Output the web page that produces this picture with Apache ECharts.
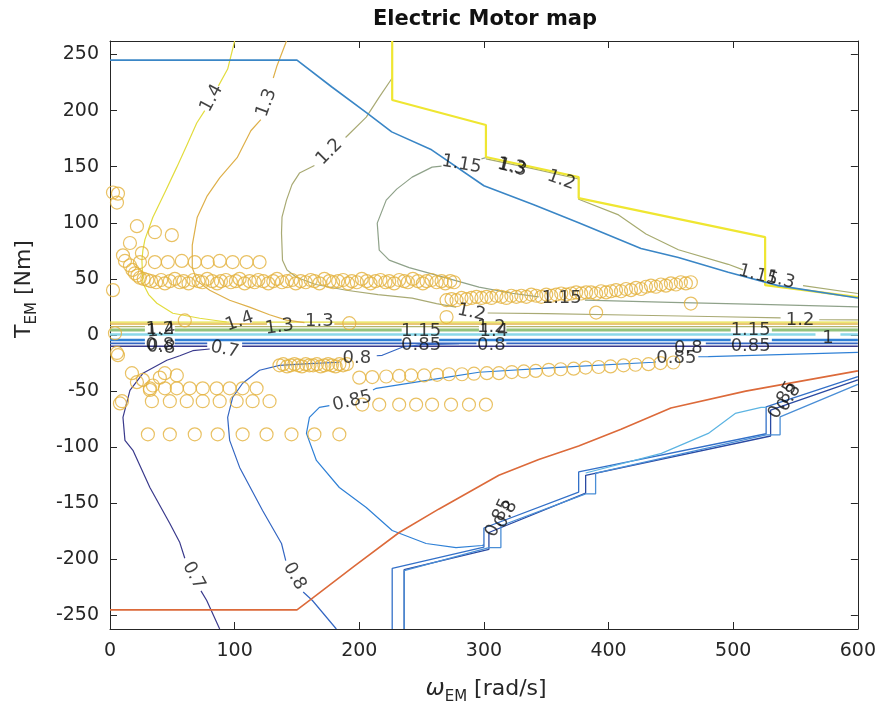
<!DOCTYPE html>
<html>
<head>
<meta charset="utf-8">
<script src="https://cdn.jsdelivr.net/npm/echarts@6/dist/echarts.min.js"></script>
<style>html,body{margin:0;padding:0;background:#fff}#c{width:879px;height:711px}</style>
</head>
<body>
<div id="c"></div>
<script>
// ---------------- data ----------------
const xTicks = [0, 100, 200, 300, 400, 500, 600];
const yTicks = [-250, -200, -150, -100, -50, 0, 50, 100, 150, 200, 250];

// torque limits
const maxTorque = [[0,245],[150,245],[178,221],[206,198],[226,181],[258,165],[300,133],[340,116],[376,100],[426,77],[456,69],[496,56],[536,44],[600,33]];
const minTorque = [[0,-245],[150,-245],[163,-234],[196,-206],[232,-176],[264,-155],[296,-135],[312,-125],[344,-111],[376,-99],[410,-84],[450,-65],[510,-50],[560,-40],[600,-32]];

// map border (highest level, yellow staircase)
const stairYellow = [[226.4,262],[226.4,209.4],[301.6,187.1],[301.6,158.6],[376,140.7],[376,122],[525.6,87.2],[525.6,44.4],[600,33.7]];
const stairOlive = [[[301.6,157],[340,148],[376,139],[376,121],[408,107],[430,90],[456,76],[496,63],[508,58]],[[556,44],[600,37]]];

// contour levels (segments)
const c14 = [[[100,262],[94.4,237],[87,222]],[[76,200],[69.6,188.9],[62,170],[53.6,149.6],[44,127],[34.4,105],[28,85],[26.4,75.6],[25.6,66.7],[26.4,46.1],[31,36],[37.6,28.3],[50.4,19.4],[72,14.9],[93.6,11.6]]];
const c13 = [[[141.6,262],[134,240],[131,229]],[[121,192],[113,182],[102,158],[88,140],[78,124],[70,105],[66,80],[66,60],[70,48],[80,39.9],[96,31],[112,24.8],[128,18],[141.6,13.2],[156,11]]];
const c12 = [[[226.4,229],[216,212],[205.6,194.2],[189,176]],[[164,151],[152,144.3],[146,134],[141.6,120.2],[138,105],[137.6,90.8],[138.4,66.7],[142,58],[149.6,51.5],[165,45],[189.6,39.9],[215,36],[242.4,32.8],[262,28],[277.6,24.8]],[[303,19.6],[350,19],[424,17.6],[480,16.5],[538,15.2]],[[569,13.6],[600,13.4]]];
const c115 = [[[301.6,158],[298,157]],[[266,150.5],[258.4,149.6],[242.4,140.7],[230,130],[221.6,120.2],[214.4,99.7],[216,75.6],[224,66.7],[240,60],[256,55.1],[296,42.6],[322.4,37.2],[344,34]],[[381,31],[450,29],[530,27],[600,25]]];
const c07 = [[[80,-12.5],[66.4,-14],[56,-18.5],[45.6,-22.5],[26.4,-34.1],[16,-49.3],[10.4,-73.4],[12,-93.9],[18.4,-102.8],[32,-135.9],[48,-168],[56,-185],[60,-199]],[[73,-228],[77.6,-236.6],[88,-262]]];
const c08 = [[[184,-24.3],[160,-25.5],[136,-27],[120,-31.4],[106.4,-43],[98.4,-55.5],[94.4,-73.4],[96,-93.9],[104,-118],[122.4,-156.4],[137.6,-185.8],[141,-201]],[[155,-229],[162.4,-236.6],[181.6,-262]],[[214,-18.5],[218.4,-18.1],[234.4,-10.9],[250,-8.5],[280,-7.8]]];
const c085 = [[[176,-63],[168,-64.5],[160,-73.4],[157.6,-87.7],[165.6,-111.8],[184,-135.9],[205.6,-153.7],[226.4,-174.2],[253.6,-185.8],[277.6,-189.4],[298.4,-187.6],[300,-187]],[[211,-49],[213.6,-47.5],[269.6,-37.7],[296,-33.2],[360,-28.8],[436,-24.3],[438,-24]],[[472,-19.4],[480,-19.2],[600,-15.4]]];

// near-zero torque band (horizontal contour branches)
const band14 = [[[0,11.5],[96,11.5]],[[114,11.5],[600,11.5]]];
const band13 = [[[0,9.8],[126,9.8]],[[180,9.8],[600,9.8]]];
const band12 = [[[0,7.5],[28,7.5]],[[52,7.5],[296,7.5]],[[318,7.5],[600,7.5]]];
const band115 = [[[0,4.5],[28,4.5]],[[52,4.5],[234,4.5]],[[264,4.5],[296,4.5]],[[318,4.5],[498,4.5]],[[531,4.5],[600,4.5]]];
const band1 = [[[0,0.5],[566,0.5]],[[586,0.5],[600,0.5]]];
const band085 = [[[0,-4.5],[28,-4.5]],[[52,-4.5],[234,-4.5]],[[264,-4.5],[498,-4.5]],[[531,-4.5],[600,-4.5]]];
const band08 = [[[0,-7.5],[28,-7.5]],[[52,-7.5],[78,-7.5]],[[106,-7.5],[294,-7.5]],[[318,-7.5],[454,-7.5]],[[478,-7.5],[600,-7.5]]];
const band07 = [[[0,-10],[78,-10]],[[106,-10],[600,-10]]];

// lower-right staircase contours
const stairA = [[226.4,-262],[226.4,-208],[300,-189],[300,-172],[376,-140],[376,-122],[526.4,-88],[526.4,-64],[600,-37]];
const stairB = [[236,-262],[236,-209],[304,-191],[304,-176],[381.6,-141],[381.6,-125],[530,-90],[530,-67],[600,-40]];
const stairC = [[236,-262],[236,-210],[304,-189.4],[313.6,-189.4],[313.6,-170],[381.6,-141.5],[389.6,-141.5],[389.6,-123],[526.4,-89],[537.6,-89],[537.6,-73],[600,-44]];
const stairD = [[381.6,-123],[442.4,-105.5],[480,-87.7],[501.6,-69.9],[522.4,-64.5],[526.4,-64.5]];

// contour labels: [x, T, text, rotation]
const contourLabels = [
  [81.6,211,'1.4',62],[125.6,207,'1.3',70],[176,163,'1.2',45],[282,152,'1.15',-10],
  [322,150,'1.3',-12],[323,149,'1.3',-14],[362,138,'1.2',-20],[520,53,'1.15',-15],[538,49,'1.3',-15],
  [40,5,'1.2',0],[41,4,'1.4',6],[40,-9,'0.8',0],[41,-11,'0.8',-4],
  [104,12,'1.4',20],[136,7,'1.3',8],[168,12,'1.3',0],[92,-13,'0.7',-12],
  [249.6,3.5,'1.15',0],[249.6,-9,'0.85',0],[290,20,'1.2',-12],
  [306,7,'1.2',0],[308,3,'1.4',0],[306,-9,'0.8',0],
  [362.4,32.8,'1.15',0],[198,-21,'0.8',0],[194.4,-59,'0.85',14],
  [514,4.2,'1.15',0],[553.6,13.2,'1.2',0],[576,-3,'1',0],[514,-10,'0.85',0],
  [464,-12,'0.8',0],[454.4,-21,'0.85',0],
  [67,-214.5,'0.7',-62],[148,-215,'0.8',-60],
  [312,-163,'0.85',65],[318,-160,'0.8',62],[540,-58,'0.85',60],[545,-56,'0.8',58]
];

// operating points (circles) [x, T]
const opTopLeft = [[2.4,127],[6.4,126],[5.6,118],[21.6,97],[36,91.6],[49.6,89],[10.4,71],[16,82],[25.6,73]];
const opRow65 = [[12,66],[24,65],[36,65],[46.4,65],[57.6,66],[68,65],[78.4,65],[88,66],[98.4,65],[109.6,65],[120,65]];
const opBand1Start = [[16,62],[18,58],[20,55],[22,53],[24,51],[27,50],[30,49]];
const opBand1X = [33,37,41,44,48,52,56,59,63,67,71,74,78,82,86,89,93,97,101,104,108,112,116,119,123,127,131,134,138,142,146,149,153,157,161,164,168,172,176,179,183,187,191,194,198,202,206,209,213,217,221,224,228,232,236,239,243,247,251,254,258,262,266,269,273,276];
const opBand1T = [48,47,49,46,48,50,47,48,46,49,48,47,50,48,46,48,49,47,48,50,46,48,47,49,48,46,48,50,47,48,49,46,48,47,49,48,46,50,48,47,48,49,46,48,47,50,48,46,48,49,47,48,46,49,48,47,50,48,46,48,49,47,48,46,48,47];
const opBand2X = [270,274,278,282,286,290,294,298,302,306,310,314,318,322,326,330,334,338,342,346,350,354,358,362,366,370,374,378,382,386,390,394,398,402,406,410,414,418,422,426,430,434,438,442,446,450,454,458,462,466];
const opBand2T = [31,32,31,33,32,33,34,33,34,33,35,34,33,35,34,35,34,36,35,34,36,35,36,37,36,37,38,37,38,38,37,39,38,39,40,39,41,40,42,41,43,44,43,45,44,46,45,47,46,47];
const opMisc = [[2.4,40],[4,1.6],[5.6,-16],[60,13],[192,10.5],[270,16],[390,20],[466,28]];
const opNegCluster = [[17.6,-34],[21.6,-42],[26.4,-40],[32,-49],[34.4,-45],[40,-38],[44,-34],[53.6,-36],[8,-61],[6.4,-18]];
const opRowNeg47X = [32,44,53.6,64,74.4,85.6,96,106.4,117.6];
const opRowNeg58X = [9.6,33.6,48,61.6,74.4,88,101.6,114.4,128];
const opRowNeg88X = [30.4,48,68,86.4,106.4,125.6,145.6,164,184];
const opRowNeg27X = [136,139,142,145,148,151,154,157,160,163,166,169,172,175,178,181,184,187,190];
const opRowNeg27T = [-27,-26,-28,-27,-26,-27,-28,-26,-27,-27,-26,-28,-27,-26,-27,-28,-26,-27,-26];
const opRowEX = [200,210.4,221.6,232,241.6,252,262.4,272,282.4,292,302.4,312,322.4,332,341.6,352,361.6,372,381.6,392,401.6,412,421.6,432,441.6,452];
const opRowET = [-38,-37.5,-37,-36.5,-36,-36,-35.5,-35,-35,-34.5,-34,-34,-33,-32.5,-32,-31,-30.5,-30,-29,-28.5,-28,-27,-26.5,-26,-25,-24.5];
const opRowFX = [202.4,216,232,245.6,258.4,273.6,288,301.6];

// ---------------- build ----------------
const FONT = '"DejaVu Sans", sans-serif';
const INK = '#262626';
const zip = (xs, ts) => xs.map((x, i) => [x, ts[i]]);
const rowAt = (xs, t) => xs.map(x => [x, t]);

const series = [];
function addLine(segs, color, width, z) {
  segs.forEach(seg => series.push({
    type: 'line', data: seg, symbol: 'none', showSymbol: false, silent: true,
    animation: false, z: z || 2, lineStyle: { color: color, width: width }
  }));
}

addLine(band1, '#8ad7e9', 2.5, 2);
addLine(band115, '#93c27c', 3, 2);
addLine(band12, '#b2b46e', 1.4, 2);
addLine(band13, '#e2b44a', 1.4, 2);
addLine(band14, '#e6df44', 1.4, 2);
addLine(band085, '#2f80d6', 2.4, 2);
addLine(band08, '#3466c2', 1.8, 2);
addLine(band07, '#37398c', 1.6, 2);

addLine(c14, '#e2dc3e', 1.2);
addLine(c13, '#deb04a', 1.2);
addLine(c12, '#a9aa74', 1.2);
addLine(c115, '#8fa28a', 1.2);
addLine(stairOlive, '#a7ab70', 1.2);
addLine(c07, '#3a3a8c', 1.2);
addLine(c08, '#3466c2', 1.2);
addLine(c085, '#2f80d6', 1.2);
addLine([stairA], '#3370c8', 1.3);
addLine([stairB], '#2a4aa2', 1.3);
addLine([stairC], '#4a8ed6', 1.3);
addLine([stairD], '#5cb4e2', 1.2);
addLine([stairYellow], '#efe631', 2.2, 3);
addLine([maxTorque], '#3a86c6', 1.6, 3);
addLine([minTorque], '#dc6a3a', 1.6, 3);

const opPoints = [].concat(
  opTopLeft, opRow65, opBand1Start, zip(opBand1X, opBand1T), zip(opBand2X, opBand2T), opMisc,
  opNegCluster, rowAt(opRowNeg47X, -47.5), rowAt(opRowNeg58X, -59), rowAt(opRowNeg88X, -88.5),
  zip(opRowNeg27X, opRowNeg27T), zip(opRowEX, opRowET), rowAt(opRowFX, -62)
);
series.push({
  type: 'scatter', data: opPoints, symbol: 'circle', symbolSize: 13, silent: true, animation: false, z: 4,
  itemStyle: { color: 'rgba(0,0,0,0)', borderColor: '#e3b23c', borderWidth: 1.2 }
});

series.push({
  type: 'scatter', silent: true, animation: false, z: 5, symbolSize: 1,
  itemStyle: { color: 'rgba(0,0,0,0)' },
  data: contourLabels.map(l => ({
    value: [l[0], l[1]],
    label: { show: true, position: 'inside', formatter: l[2], rotate: l[3],
      fontSize: 18, fontFamily: FONT, color: '#111111' }
  }))
});

const axisCommon = {
  type: 'value', splitLine: { show: false },
  axisLine: { show: true, onZero: false, lineStyle: { color: INK, width: 1 } },
  axisTick: { show: true, inside: true, length: 7, lineStyle: { color: INK } }
};

const option = {
  backgroundColor: '#ffffff',
  animation: false,
  grid: { left: 110, right: 19, top: 41, bottom: 82, containLabel: false },
  xAxis: [
    Object.assign({}, axisCommon, { position: 'bottom', min: 0, max: 600, interval: 100,
      axisLabel: { show: true, margin: 13, fontSize: 19, fontFamily: FONT, color: INK } }),
    Object.assign({}, axisCommon, { position: 'top', min: 0, max: 600, interval: 100,
      axisLabel: { show: false } })
  ],
  yAxis: [
    Object.assign({}, axisCommon, { position: 'left', min: -262, max: 262,
      axisTick: Object.assign({}, axisCommon.axisTick, { customValues: yTicks }),
      axisLabel: { show: true, customValues: yTicks, margin: 11, fontSize: 19, fontFamily: FONT, color: INK } }),
    Object.assign({}, axisCommon, { position: 'right', min: -262, max: 262,
      axisTick: Object.assign({}, axisCommon.axisTick, { customValues: yTicks }),
      axisLabel: { show: false } })
  ],
  series: series,
  graphic: [
    { type: 'text', x: 485, y: 20, silent: true,
      style: { text: 'Electric Motor map', align: 'center', verticalAlign: 'middle',
        fontSize: 21, fontWeight: 'bold', fontFamily: FONT, fill: '#111' } },
    { type: 'text', x: 486, y: 689, silent: true,
      style: { text: '{w|ω}{s|EM}{n| [rad/s]}', align: 'center', verticalAlign: 'middle',
        rich: {
          w: { fontSize: 23, fontFamily: FONT, fontStyle: 'italic', fill: INK },
          n: { fontSize: 22, fontFamily: FONT, fill: INK },
          s: { fontSize: 15, fontFamily: FONT, fill: INK, padding: [17, 0, 0, 0] }
        } } },
    { type: 'text', x: 24, y: 289, rotation: Math.PI / 2, silent: true,
      style: { text: '{n|T}{s|EM}{n| [Nm]}', align: 'center', verticalAlign: 'middle',
        rich: {
          n: { fontSize: 22, fontFamily: FONT, fill: INK },
          s: { fontSize: 15, fontFamily: FONT, fill: INK, padding: [17, 0, 0, 0] }
        } } }
  ]
};

const chart = echarts.init(document.getElementById('c'), null, { renderer: 'canvas' });
chart.setOption(option);
</script>
</body>
</html>
